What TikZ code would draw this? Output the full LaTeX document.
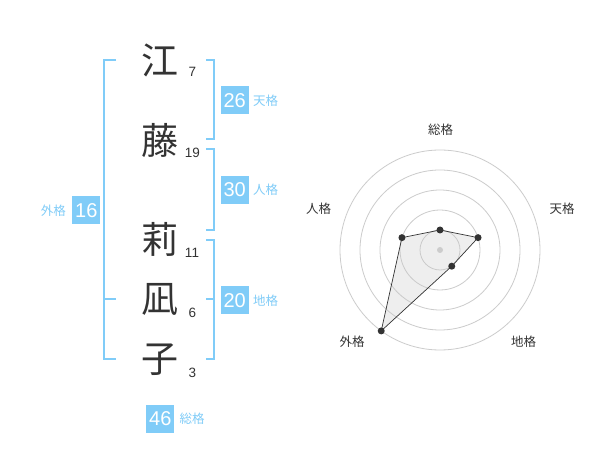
\documentclass[tikz,border=0pt]{standalone}
\usepackage{fontspec}
\setmainfont{Liberation Sans}
\newfontfamily\jp{Noto Sans CJK JP}
\usepackage{tikz}
\usetikzlibrary{positioning}
\definecolor{skyblue}{RGB}{128,204,248}
\definecolor{ink}{RGB}{51,51,51}
\definecolor{ring}{RGB}{204,204,204}
\definecolor{area}{RGB}{200,200,200}
\tikzstyle{kanji} = [text=ink,inner sep=0pt,font=\jp\fontsize{37}{37}\selectfont]
\tikzstyle{strokes} = [text=ink,inner sep=0pt,font=\fontsize{13.5}{13.5}\selectfont]
\tikzstyle{score} = [fill=skyblue,text=white,minimum size=28pt,inner sep=0pt,font=\fontsize{20}{20}\selectfont]
\tikzstyle{kaku} = [text=skyblue,inner sep=0pt,font=\jp\fontsize{12.5}{12.5}\selectfont]
\tikzstyle{bracket} = [skyblue,line width=2pt]
\tikzstyle{axislabel} = [text=ink,inner sep=0pt,font=\jp\fontsize{12.5}{12.5}\selectfont]
\tikzstyle{dot} = [circle,fill=ink,inner sep=0pt,minimum size=7pt]

\begin{document}
\begin{tikzpicture}[x=1pt,y=-1pt]
	\useasboundingbox[fill=white] (0,0) rectangle (600,470);

	% Name characters with stroke counts
	\node[kanji] (k1) at (160,60) {江};
	\node[kanji] (k2) at (160,140) {藤};
	\node[kanji] (k3) at (160,239) {莉};
	\node[kanji] (k4) at (160,299) {凪};
	\node[kanji] (k5) at (160,360) {子};
	\node[strokes] (n1) at (192.5,72) {7};
	\node[strokes] (n2) at (192.5,152.5) {19};
	\node[strokes] (n3) at (192,252.5) {11};
	\node[strokes] (n4) at (192.5,312.5) {6};
	\node[strokes] (n5) at (192.5,373) {3};

	% Brackets:
	\begin{scope}[bracket]
		\draw (116,60) -- (104,60) -- (104,359) -- (116,359);
		\draw (104,299) -- (116,299);
		\draw (206,60) -- (214,60) -- (214,139) -- (206,139);
		\draw (206,149) -- (214,149) -- (214,230) -- (206,230);
		\draw (206,240) -- (214,240) -- (214,359) -- (206,359);
		\draw (214,299) -- (206,299);
	\end{scope}

	% Scores:
	\node[score] (ten) at (234.7,100.3) {26};
	\node[kaku,right=4pt of ten] (tenl) {天格};
	\node[score] (jin) at (234.7,190) {30};
	\node[kaku,right=4pt of jin] (jinl) {人格};
	\node[score] (chi) at (234.7,300.3) {20};
	\node[kaku,right=4pt of chi] (chil) {地格};
	\node[score] (gai) at (86.3,210.3) {16};
	\node[kaku,left=6pt of gai] (gail) {外格};
	\node[score] (sou) at (160.3,419) {46};
	\node[kaku,right=5pt of sou] (soul) {総格};

	% Radar chart
	\coordinate (c) at (440,250);
	\foreach \r in {20,40,...,100}{%
		\draw[ring,line width=0.8pt] (c) circle (\r);
	}
	\path (c) ++(-90:20) coordinate (psou);
	\path (c) ++(-18:40) coordinate (pten);
	\path (c) ++(54:20) coordinate (pchi);
	\path (c) ++(126:100) coordinate (pgai);
	\path (c) ++(198:40) coordinate (pjin);
	\draw[fill=area,fill opacity=0.3,draw=ink,line width=0.7pt] (psou) -- (pten) -- (pchi) -- (pgai) -- (pjin) -- cycle;
	\fill[ring] (c) circle (3);
	\foreach \p in {psou,pten,pchi,pgai,pjin}{%
		\node[dot] at (\p) {};
	}
	\node[axislabel] (asou) at (440.5,130) {総格};
	\node[axislabel] (aten) at (562,208.5) {天格};
	\node[axislabel] (achi) at (523.5,342) {地格};
	\node[axislabel] (agai) at (352,342) {外格};
	\node[axislabel] (ajin) at (318.5,208.5) {人格};
\end{tikzpicture}
\end{document}
